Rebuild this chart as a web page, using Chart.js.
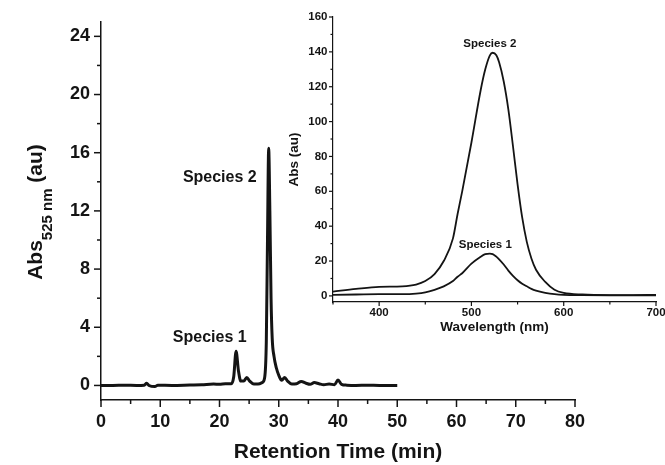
<!DOCTYPE html>
<html lang="en">
<head>
<meta charset="UTF-8">
<title>Chromatogram with inset spectra</title>
<script src="https://cdn.jsdelivr.net/npm/chart.js@4.4.1/dist/chart.umd.min.js"></script>
<style>
  html, body { margin: 0; padding: 0; background: #fff; overflow: hidden; }
  #wrap { position: relative; width: 665px; height: 465px; }
  #main { position: absolute; left: 0; top: 0; }
  #inset { position: absolute; left: 270px; top: 0; }
</style>
</head>
<body>
<div id="wrap">
  <canvas id="main" width="665" height="465"></canvas>
  <canvas id="inset" width="410" height="345"></canvas>
</div>
<script>
// chromatogram, read at 525 nm
const retentionTime = [0, 2, 4, 6, 7.3, 7.7, 8.1, 9.1, 9.6, 12, 15, 17, 19, 20, 21, 22.0, 22.4, 22.8, 23.2, 23.6, 24.1, 24.6, 25.1, 25.8, 26.5, 27.2, 27.6, 27.9, 28.1, 28.3, 28.5, 28.7, 28.9, 29.2, 29.6, 30.0, 30.5, 31.0, 31.5, 32.2, 33.0, 33.8, 34.6, 35.3, 36.0, 36.8, 37.6, 38.5, 39.4, 40.0, 40.6, 41.5, 43, 45, 47, 50]
const abs525 = [0, 0, 0.02, 0, 0.02, 0.15, 0, -0.08, 0.02, 0, 0.03, 0.05, 0.1, 0.08, 0.12, 0.12, 0.6, 2.35, 1.0, 0.3, 0.3, 0.55, 0.3, 0.1, 0.1, 0.2, 0.5, 3.0, 10, 16.3, 12, 6, 3.2, 2.0, 1.2, 0.7, 0.35, 0.55, 0.3, 0.1, 0.12, 0.28, 0.15, 0.08, 0.2, 0.12, 0.05, 0.1, 0.05, 0.38, 0.08, 0.02, 0, 0.02, 0, 0]

// absorption spectra of the two fractions
const wavelength = [350, 375, 400, 425, 440, 450, 460, 470, 480, 485, 490, 500, 510, 515, 520, 523, 527, 530, 535, 540, 545, 550, 555, 560, 565, 570, 580, 590, 600, 620, 650, 675, 700]
const species1Abs = [0.6, 0.8, 1.0, 1.0, 1.3, 2.0, 3.5, 5.5, 8.5, 11, 13, 18.5, 22.5, 24, 24.3, 24, 22.5, 21, 18, 14.5, 11.5, 9, 7, 5.5, 4, 3, 1.8, 1.0, 0.6, 0.4, 0.3, 0.3, 0.3]
const species2Abs = [2.5, 4, 5.2, 5.5, 6.5, 8.5, 12.5, 20, 33, 47, 60, 88, 118, 130, 138, 139.5, 138, 134, 123, 107, 86, 64, 45, 31, 21.5, 15, 8, 3.5, 1.7, 0.8, 0.5, 0.5, 0.6]

const mainXTicks = [0, 10, 20, 30, 40, 50, 60, 70, 80]
const mainXMinor = [5, 15, 25, 35, 45, 55, 65, 75]
const mainYTicks = [0, 4, 8, 12, 16, 20, 24]
const mainYMinor = [2, 6, 10, 14, 18, 22]
const insetXTicks = [400, 500, 600, 700]
const insetXMinor = [350, 450, 550, 650]
const insetYTicks = [0, 20, 40, 60, 80, 100, 120, 140, 160]
const insetYMinor = [10, 30, 50, 70, 90, 110, 130, 150]

const FONT = "'Liberation Sans', Arial, sans-serif"
const INK = "#141414"

function pts(xs, ys) {
    return xs.map((x, i) => ({x: x, y: ys[i]}))
}

// tick marks (major + minor), text notes and the subscripted y title
const marks = {
    id: "marks",
    afterDraw(chart, args, opts) {
        const ctx = chart.ctx
        const xs = chart.scales.x
        const ys = chart.scales.y
        ctx.save()
        ctx.strokeStyle = INK
        ctx.lineWidth = opts.tickWidth
        const xTick = (v, len) => {
            const px = xs.getPixelForValue(v)
            ctx.beginPath(); ctx.moveTo(px, xs.top); ctx.lineTo(px, xs.top + len); ctx.stroke()
        }
        const yTick = (v, len) => {
            const py = ys.getPixelForValue(v)
            ctx.beginPath(); ctx.moveTo(ys.right, py); ctx.lineTo(ys.right - len, py); ctx.stroke()
        }
        opts.xMajor.forEach(v => xTick(v, opts.majorLen))
        opts.xMinor.forEach(v => xTick(v, opts.minorLen))
        opts.yMajor.forEach(v => yTick(v, opts.majorLen))
        opts.yMinor.forEach(v => yTick(v, opts.minorLen))

        ctx.fillStyle = INK
        ctx.textAlign = "center"
        ctx.textBaseline = "alphabetic"
        opts.notes.forEach(n => {
            ctx.font = "bold " + n.size + "px " + FONT
            ctx.fillText(n.text, xs.getPixelForValue(n.x), ys.getPixelForValue(n.y))
        })

        if (opts.yTitle) {
            const t = opts.yTitle
            ctx.textAlign = "left"
            ctx.font = "bold " + t.size + "px " + FONT
            const w1 = ctx.measureText(t.main).width
            const w3 = ctx.measureText(t.after).width
            ctx.font = "bold " + t.subSize + "px " + FONT
            const w2 = ctx.measureText(t.sub).width
            const total = w1 + w2 + w3
            ctx.translate(t.x, t.cy + total / 2)
            ctx.rotate(-Math.PI / 2)
            ctx.font = "bold " + t.size + "px " + FONT
            ctx.fillText(t.main, 0, 0)
            ctx.fillText(t.after, w1 + w2, 0)
            ctx.font = "bold " + t.subSize + "px " + FONT
            ctx.fillText(t.sub, w1, t.subShift)
        }
        ctx.restore()
    }
}

const mainChart = new Chart("main", {
    type: "line",
    data: {
        datasets: [{
            data: pts(retentionTime, abs525),
            borderColor: INK,
            borderWidth: 3,
            pointRadius: 0,
            cubicInterpolationMode: "monotone",
            fill: false
        }]
    },
    options: {
        responsive: false,
        animation: false,
        events: [],
        layout: {padding: {top: 19, right: 90, left: 0, bottom: 0}},
        plugins: {
            legend: {display: false},
            tooltip: {enabled: false},
            marks: {
                tickWidth: 1.5, majorLen: 7, minorLen: 4,
                xMajor: mainXTicks, xMinor: mainXMinor,
                yMajor: mainYTicks, yMinor: mainYMinor,
                notes: [
                    {text: "Species 2", x: 20.05, y: 13.97, size: 16},
                    {text: "Species 1", x: 18.35, y: 3.02, size: 16}
                ],
                yTitle: {main: "Abs", sub: "525 nm", after: " (au)", size: 21, subSize: 15, subShift: 10, x: 42, cy: 212}
            }
        },
        scales: {
            x: {
                type: "linear", min: 0, max: 80,
                afterBuildTicks: s => { s.ticks = mainXTicks.map(v => ({value: v})) },
                afterFit: s => { s.height = 65 },
                grid: {display: false, drawTicks: false},
                border: {display: true, color: INK, width: 1.5},
                ticks: {color: INK, padding: 11, maxRotation: 0, font: {family: FONT, size: 18, weight: "bold"}},
                title: {display: true, text: "Retention Time (min)", color: INK, padding: {top: 0, bottom: 0},
                        font: {family: FONT, size: 21, weight: "bold"}}
            },
            y: {
                type: "linear", min: -1, max: 25,
                afterBuildTicks: s => { s.ticks = mainYTicks.map(v => ({value: v})) },
                afterFit: s => { s.width = 101 },
                grid: {display: false, drawTicks: false},
                border: {display: true, color: INK, width: 1.5},
                ticks: {color: INK, padding: 11, font: {family: FONT, size: 18, weight: "bold"}}
            }
        }
    },
    plugins: [marks]
})

const insetChart = new Chart("inset", {
    type: "line",
    data: {
        datasets: [{
            data: pts(wavelength, species2Abs),
            borderColor: INK,
            borderWidth: 1.8,
            pointRadius: 0,
            cubicInterpolationMode: "monotone",
            fill: false
        }, {
            data: pts(wavelength, species1Abs),
            borderColor: INK,
            borderWidth: 1.8,
            pointRadius: 0,
            cubicInterpolationMode: "monotone",
            fill: false
        }]
    },
    options: {
        responsive: false,
        animation: false,
        events: [],
        layout: {padding: {top: 17, right: 24, left: 0, bottom: 0}},
        plugins: {
            legend: {display: false},
            tooltip: {enabled: false},
            marks: {
                tickWidth: 1.2, majorLen: 4, minorLen: 2.5,
                xMajor: insetXTicks, xMinor: insetXMinor,
                yMajor: insetYTicks, yMinor: insetYMinor,
                notes: [
                    {text: "Species 2", x: 520, y: 142.8, size: 11.5},
                    {text: "Species 1", x: 515, y: 27.3, size: 11.5}
                ]
            }
        },
        scales: {
            x: {
                type: "linear", min: 350, max: 700,
                afterBuildTicks: s => { s.ticks = insetXTicks.map(v => ({value: v})) },
                afterFit: s => { s.height = 43 },
                grid: {display: false, drawTicks: false},
                border: {display: true, color: INK, width: 1.2},
                ticks: {color: INK, padding: 4, maxRotation: 0, font: {family: FONT, size: 11.5, weight: "bold"}},
                title: {display: true, text: "Wavelength (nm)", color: INK, padding: {top: 0, bottom: 10},
                        font: {family: FONT, size: 13.5, weight: "bold"}}
            },
            y: {
                type: "linear", min: -3.5, max: 160,
                afterBuildTicks: s => { s.ticks = insetYTicks.map(v => ({value: v})) },
                afterFit: s => { s.width = 63 },
                grid: {display: false, drawTicks: false},
                border: {display: true, color: INK, width: 1.2},
                ticks: {color: INK, padding: 5.5, font: {family: FONT, size: 11.5, weight: "bold"}},
                title: {display: true, text: "Abs (au)", color: INK, padding: {top: 16, bottom: 0},
                        font: {family: FONT, size: 13.5, weight: "bold"}}
            }
        }
    },
    plugins: [marks]
})
</script>
</body>
</html>
